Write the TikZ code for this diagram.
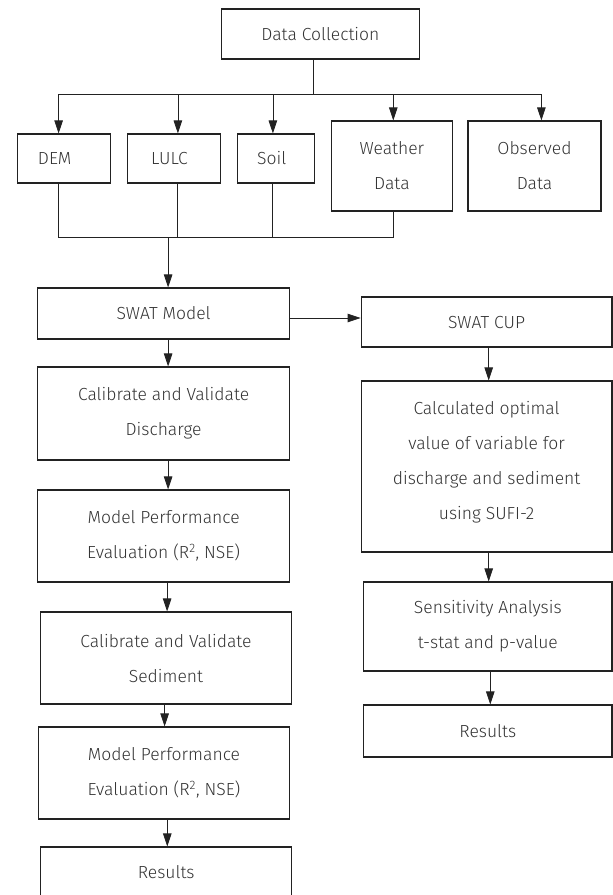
\documentclass[tikz,border=0pt]{standalone}
\usepackage{fontspec}
\setmainfont{Fira Sans}[UprightFont=* Light]
\usetikzlibrary{arrows.meta}
\definecolor{ink}{HTML}{222222}
\definecolor{txt}{HTML}{333333}
\tikzset{
  box/.style={draw=ink, line width=1.1pt, rectangle, inner sep=0pt, align=center,
    text=txt, font=\fontsize{17.5}{35}\selectfont},
  conn/.style={draw=ink, line width=0.8pt},
  arr/.style={conn, -{Triangle[length=13pt,width=8.5pt]}},
}
\begin{document}
\begin{tikzpicture}[x=1pt,y=-1pt]
\useasboundingbox (0,0) rectangle (613,895);
% top row
\node[box, minimum width=198pt, minimum height=50pt] (dc) at (320.4,34) {Data Collection};
\node[box, minimum width=93pt, minimum height=49pt] (dem) at (63.7,158.5) {\hspace*{-18pt}DEM};
\node[box, minimum width=93pt, minimum height=49pt] (lulc) at (174.4,158.5) {\hspace*{-10pt}LULC};
\node[box, minimum width=77pt, minimum height=49pt] (soil) at (275.8,158.5) {\hspace*{-8pt}Soil};
\node[box, minimum width=120.8pt, minimum height=90pt] (weather) at (391.9,166) {Weather\\Data};
\node[box, minimum width=133pt, minimum height=90pt] (observed) at (534.5,166) {Observed\\Data};
% left column
\node[box, minimum width=251.4pt, minimum height=51pt] (swat) at (163.6,313.5) {SWAT Model};
\node[box, minimum width=251.4pt, minimum height=93pt] (caldis) at (163.6,413.5) {Calibrate and Validate\\Discharge};
\node[box, minimum width=251.4pt, minimum height=92pt] (mpa) at (163.6,536) {Model Performance\\Evaluation (R\textsuperscript{2}, NSE)};
\node[box, minimum width=251.3pt, minimum height=92pt] (calsed) at (166,658) {Calibrate and Validate\\Sediment};
\node[box, minimum width=251.4pt, minimum height=92pt] (mpb) at (164,773) {Model Performance\\Evaluation (R\textsuperscript{2}, NSE)};
\node[box, minimum width=251pt, minimum height=51pt] (resa) at (166.2,872.5) {Results};
% right column
\node[box, minimum width=250.8pt, minimum height=50pt] (cup) at (486.6,322) {SWAT CUP};
\node[box, minimum width=250.8pt, minimum height=171pt] (calc) at (486.6,466.5) {Calculated optimal\\value of variable for\\discharge and sediment\\using SUFI-2\\[-23pt]};
\node[box, minimum width=248.4pt, minimum height=89pt] (sens) at (487.8,626.5) {Sensitivity Analysis\\t-stat and p-value};
\node[box, minimum width=248.4pt, minimum height=52pt] (resb) at (487.8,731) {Results};
% top distribution bus
\coordinate (t0) at (313.5,94);
\coordinate (t1) at (58.6,94);
\coordinate (t2) at (177.9,94);
\coordinate (t3) at (272.9,94);
\coordinate (t4) at (393.3,94);
\coordinate (t5) at (541.4,94);
\draw[conn] (t0 |- dc.south) -- (t0);
\draw[conn] (t1) -- (t5);
\draw[arr] (t1) -- (t1 |- dem.north);
\draw[arr] (t2) -- (t2 |- lulc.north);
\draw[arr] (t3) -- (t3 |- soil.north);
\draw[arr] (t4) -- (t4 |- weather.north);
\draw[arr] (t5) -- (t5 |- observed.north);
% collecting bus
\coordinate (j1) at (58.6,237);
\coordinate (j2) at (177.6,237);
\coordinate (j3) at (272.6,237);
\coordinate (j4) at (393.3,237);
\coordinate (j0) at (168.1,237);
\draw[conn] (j1 |- dem.south) -- (j1) -- (j4) -- (j4 |- weather.south);
\draw[conn] (j2 |- lulc.south) -- (j2);
\draw[conn] (j3 |- soil.south) -- (j3);
\draw[arr] (j0) -- (j0 |- swat.north);
% swat to cup
\coordinate (h) at (0,318);
\draw[arr] (swat.east |- h) -- (cup.west |- h);
% left column arrows
\coordinate (la) at (168.1,0);
\coordinate (lb) at (167.1,0);
\coordinate (lc) at (164.6,0);
\coordinate (ld) at (167.3,0);
\draw[arr] (la |- swat.south) -- (la |- caldis.north);
\draw[arr] (la |- caldis.south) -- (la |- mpa.north);
\draw[arr] (lb |- mpa.south) -- (lb |- calsed.north);
\draw[arr] (lc |- calsed.south) -- (lc |- mpb.north);
\draw[arr] (ld |- mpb.south) -- (ld |- resa.north);
% right column arrows
\coordinate (ra) at (488.7,0);
\coordinate (rb) at (490.3,0);
\draw[arr] (ra |- cup.south) -- (ra |- calc.north);
\draw[arr] (ra |- calc.south) -- (ra |- sens.north);
\draw[arr] (rb |- sens.south) -- (rb |- resb.north);
\end{tikzpicture}
\end{document}
